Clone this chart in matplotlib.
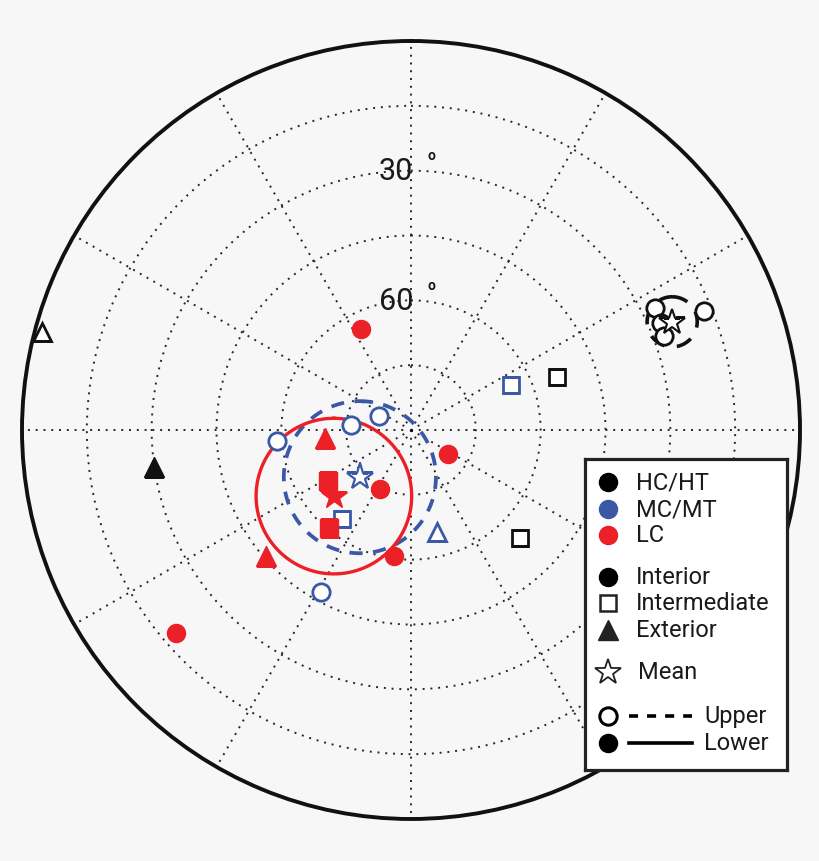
import numpy as np
import matplotlib.pyplot as plt

plt.rcParams['font.family'] = ['Roboto', 'DejaVu Sans']

RED = '#ec2027'
BLUE = '#3b58a7'
BG = '#f7f7f7'

# 方位(dec)と伏角(inc), 単位: 度
# LC (赤)
lc_int_dec = [333.7, 123.0, 207.7, 187.7, 229.2]
lc_int_inc = [63.9, 79.8, 74.6, 60.6, 18.2]
lc_mid_dec = [238.4, 219.9]
lc_mid_inc = [67.5, 60.4]
lc_ext_dec = [264.7, 229.0]
lc_ext_inc = [70.0, 45.6]
lc_mean = (229.4, 66.5, 18.0)   # dec, inc, a95

# MC/MT (青)
mc_int_dec = [265.3, 274.8, 293.6, 209.1]
mc_int_inc = [58.9, 76.1, 81.9, 47.1]
mc_mid_dec = [217.8, 65.8]
mc_mid_inc = [63.9, 64.6]
mc_ext_dec = [165.7]
mc_ext_inc = [65.6]
mc_mean = (227.3, 73.9, 17.6)

# HC/HT (黒)
hc_int_dec = [63.4, 67.9, 66.8, 69.6]
hc_int_inc = [26.9, 16.8, 27.1, 27.6]
hc_mid_dec = [70.0, 134.7]
hc_mid_inc = [54.1, 54.5]
hc_ext_lo_dec = [261.8]
hc_ext_lo_inc = [29.9]
hc_ext_up_dec = [284.9]
hc_ext_up_inc = [1.7]
hc_mean = (67.5, 24.6, 5.8)

ring_labels = [30, 60]


def pol(dec, inc):
    return np.radians(dec), 90 - np.asarray(inc)


def small_circle(dec, inc, a95):
    r0 = 90 - inc
    x0 = r0 * np.sin(np.radians(dec))
    y0 = r0 * np.cos(np.radians(dec))
    t = np.linspace(0, 2 * np.pi, 240)
    x = x0 + a95 * np.sin(t)
    y = y0 + a95 * np.cos(t)
    return np.arctan2(x, y), np.hypot(x, y)


fig = plt.figure(figsize=(8.2, 8.62), dpi=100, facecolor=BG)
ax = fig.add_axes([22 / 820, 42 / 862, 778 / 820, 778 / 862], projection='polar')
ax.set_facecolor(BG)
ax.set_theta_zero_location('N')
ax.set_theta_direction(-1)
ax.set_ylim(0, 90)
ax.set_yticks([15, 30, 45, 60, 75])
ax.set_yticklabels([])
ax.set_xticks(np.radians(np.arange(0, 360, 30)))
ax.set_xticklabels([])
ax.grid(True, color='#262626', ls=(0, (1, 3)), lw=1.4)
ax.spines['polar'].set_linewidth(2.8)
ax.spines['polar'].set_color('#111111')

# 目盛りの文字
for v in ring_labels:
    ax.annotate(str(v), (0, 90 - v), xytext=(1.5, 0), textcoords='offset points',
                ha='right', va='center', fontsize=22, color='#1a1a1a')
    ax.annotate('o', (0, 90 - v), xytext=(15, 11), textcoords='offset points',
                ha='center', va='center', fontsize=10, color='#1a1a1a',
                fontweight='bold')

# 中心の点
ax.plot(0, 0, 'o', ms=4, color='black', mec='white', mew=1.5, zorder=5)

ow = dict(mfc='white', mew=2.0, ls='none', zorder=4)

# 黒
ax.plot(*pol(hc_int_dec, hc_int_inc), 'o', ms=12.5, mec='#111111', **ow)
ax.plot(*pol(hc_mid_dec, hc_mid_inc), 's', ms=11.5, mec='#111111', **ow)
ax.plot(*pol(hc_ext_lo_dec, hc_ext_lo_inc), '^', ms=15, color='#111111', ls='none', zorder=4)
ax.plot(*pol(hc_ext_up_dec, hc_ext_up_inc), '^', ms=13, mec='#111111', **ow)
ax.plot(*pol(hc_mean[0], hc_mean[1]), '*', ms=19, mec='#111111', mfc='white', mew=1.5, zorder=5)
ax.plot(*small_circle(*hc_mean), color='#111111', lw=2.6, ls=(0, (4.5, 3.5)), zorder=3)

# 青
ax.plot(*pol(mc_int_dec, mc_int_inc), 'o', ms=12.5, mec=BLUE, **ow)
ax.plot(*pol(mc_mid_dec, mc_mid_inc), 's', ms=11.5, mec=BLUE, **ow)
ax.plot(*pol(mc_ext_dec, mc_ext_inc), '^', ms=13, mec=BLUE, **ow)
ax.plot(*pol(mc_mean[0], mc_mean[1]), '*', ms=19.5, mec=BLUE, mfc='white', mew=1.6, zorder=5)
ax.plot(*small_circle(*mc_mean), color=BLUE, lw=2.7, ls=(0, (3.5, 2.8)), zorder=3)

# 赤
ax.plot(*pol(lc_int_dec, lc_int_inc), 'o', ms=13, color=RED, ls='none', zorder=4)
ax.plot(*pol(lc_mid_dec, lc_mid_inc), 's', ms=12.5, color=RED, ls='none', zorder=4)
ax.plot(*pol(lc_ext_dec, lc_ext_inc), '^', ms=15, color=RED, ls='none', zorder=4)
ax.plot(*pol(lc_mean[0], lc_mean[1]), '*', ms=19, color=RED, zorder=5)
ax.plot(*small_circle(*lc_mean), color=RED, lw=2.4, zorder=3)

# 凡例 (手書き)
lg = fig.add_axes([585 / 820, (862 - 771) / 862, 202 / 820, 311 / 862])
lg.set_xlim(0, 202)
lg.set_ylim(311, 0)
lg.set_facecolor('white')
lg.set_xticks([])
lg.set_yticks([])
for s in lg.spines.values():
    s.set_linewidth(2.3)
    s.set_color('#222222')

fs = 17
tc = '#1a1a1a'
rows = [
    (23, 'o', dict(ms=13, color='black'), 'HC/HT'),
    (50, 'o', dict(ms=13, color=BLUE), 'MC/MT'),
    (76, 'o', dict(ms=13, color=RED), 'LC'),
    (118, 'o', dict(ms=13, color='black'), 'Interior'),
    (144, 's', dict(ms=11.5, mec='#222222', mfc='white', mew=1.8), 'Intermediate'),
    (171, '^', dict(ms=15, color='#222222'), 'Exterior'),
]
for y, m, kw, lab in rows:
    lg.plot(23, y, m, **kw)
    lg.text(51, y, lab, fontsize=fs, va='center', ha='left', color=tc)
lg.plot(23, 213, '*', ms=19, mec='#222222', mfc='white', mew=1.3)
lg.text(53, 213, 'Mean', fontsize=fs, va='center', ha='left', color=tc)
lg.plot(23, 257, 'o', ms=12.5, mec='black', mfc='white', mew=2.2)
lg.plot([44, 107], [257, 257], color='black', lw=2.6, ls=(0, (2.5, 2.5)))
lg.text(119, 257, 'Upper', fontsize=fs, va='center', ha='left', color=tc)
lg.plot(23, 284, 'o', ms=13, color='black')
lg.plot([44, 107], [284, 284], color='black', lw=2.6)
lg.text(119, 284, 'Lower', fontsize=fs, va='center', ha='left', color=tc)

fig.savefig('out.png', dpi=100, facecolor=BG)
